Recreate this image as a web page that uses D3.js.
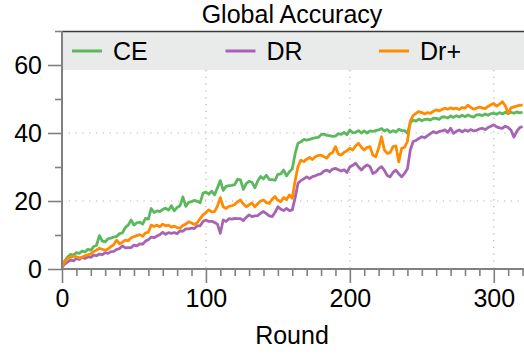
<!DOCTYPE html>
<meta charset="utf-8"/>
<style>
  body { margin: 0; background: #fff; }
  text { font-family: "Liberation Sans", Arial, Helvetica, sans-serif; }
</style>
<svg width="524" height="354"></svg>

<script src="https://cdn.jsdelivr.net/npm/d3@7"></script>
<script>

// rounds 0..320, one value every 2 rounds
var step = 2
var seriesNames = ['CE', 'DR', 'Dr+']
var seriesColours = ['#5cb85c', '#a864b4', '#ff8c00']

var ce = [
  0.8, 2.5, 3.6, 4.3, 4.1, 4.8, 4.6, 5.3, 5.0, 5.8,
  5.5, 6.6, 7.0, 9.8, 8.2, 8.0, 8.9, 9.1, 9.4, 9.6,
  10.4, 10.6, 12.2, 12.9, 14.4, 12.9, 13.6, 13.8, 13.2, 14.9,
  14.7, 17.8, 16.6, 17.1, 16.9, 17.5, 17.9, 17.3, 18.6, 17.1,
  18.1, 18.6, 21.2, 18.4, 19.6, 19.8, 20.2, 19.9, 19.5, 22.3,
  22.6, 22.0, 22.9, 21.8, 23.9, 26.0, 23.1, 24.3, 24.5, 24.6,
  24.8, 26.4, 26.2, 23.4, 25.1, 25.8, 25.5, 23.9, 25.9, 27.2,
  26.5, 27.6, 26.3, 26.3, 26.1, 27.8, 28.0, 29.1, 27.4, 28.6,
  29.5, 34.0, 37.0, 37.4, 38.1, 37.9, 38.1, 38.4, 38.6, 38.7,
  39.5, 39.7, 39.3, 39.2, 39.0, 39.1, 39.8, 39.6, 40.2, 39.5,
  40.9, 40.1, 40.2, 40.7, 40.0, 40.6, 40.0, 40.6, 40.5, 40.7,
  40.9, 41.3, 40.6, 41.0, 40.2, 40.7, 40.3, 41.1, 40.7, 40.7,
  39.9, 43.0, 43.8, 43.5, 44.1, 43.6, 44.0, 44.1, 43.8, 44.4,
  44.3, 44.0, 44.7, 44.7, 44.4, 45.0, 44.6, 45.1, 44.7, 45.2,
  44.8, 45.3, 44.9, 44.7, 45.3, 45.4, 45.1, 45.6, 45.2, 45.7,
  45.8, 45.5, 46.0, 45.6, 46.1, 45.7, 46.1, 45.8, 46.2, 45.9, 46.1
]

var dr = [
  0.5, 1.5, 2.1, 2.6, 2.4, 3.1, 2.8, 3.4, 3.1, 3.6,
  3.4, 4.1, 3.9, 4.4, 4.2, 4.8, 4.6, 5.1, 5.2, 5.8,
  6.0, 6.8, 6.2, 6.3, 6.3, 7.0, 6.8, 7.4, 7.3, 8.2,
  8.6, 9.4, 9.2, 9.7, 10.1, 10.8, 10.2, 10.7, 10.5, 10.7,
  10.4, 11.2, 11.1, 11.8, 11.8, 12.0, 11.9, 12.7, 12.7, 14.0,
  14.4, 14.0, 14.0, 13.7, 13.2, 10.5, 14.4, 14.0, 14.8, 14.7,
  14.9, 14.8, 14.8, 14.2, 15.2, 15.9, 15.4, 15.6, 15.7, 16.4,
  16.9, 16.3, 15.6, 15.4, 16.6, 18.3, 17.6, 17.2, 17.8, 17.2,
  17.4, 21.0, 25.2, 26.0, 26.5, 27.1, 26.6, 27.2, 27.4, 27.8,
  28.0, 28.8, 29.1, 28.6, 29.4, 29.6, 29.2, 28.8, 29.2, 28.4,
  30.0, 30.5, 31.1, 30.0, 29.1, 30.0, 30.6, 30.1, 28.1, 28.5,
  29.5, 30.1, 29.0, 27.5, 27.1, 28.4, 29.1, 28.0, 27.1, 28.1,
  29.5, 35.0, 37.5, 37.8, 38.4, 38.9, 38.6, 39.2, 39.8, 40.4,
  40.0, 40.4, 40.6, 40.9, 40.2, 41.4, 39.9, 40.5, 40.9, 40.3,
  40.9, 40.5, 41.0, 40.6, 40.8, 41.2, 41.4, 41.0, 41.6, 42.0,
  42.4, 41.8, 41.5, 41.4, 42.0, 41.6, 40.8, 38.8, 40.5, 41.6, 41.9
]

var drPlus = [
  0.6, 2.2, 3.1, 3.5, 3.8, 3.6, 3.3, 3.5, 3.9, 4.2,
  4.4, 5.1, 5.6, 6.1, 5.8, 5.5, 5.9, 6.6, 7.2, 8.5,
  7.4, 7.9, 8.5, 8.3, 9.2, 9.5, 9.8, 10.1, 9.6, 10.6,
  10.8, 12.9, 12.5, 12.9, 12.4, 13.2, 12.7, 12.9, 12.3, 12.6,
  12.2, 12.0, 12.8, 13.2, 13.9, 13.5, 13.1, 13.6, 14.8, 15.9,
  16.6, 17.4, 16.8, 16.9, 18.5, 21.0, 18.3, 17.8, 18.4, 18.6,
  19.0, 19.8, 20.3, 19.1, 18.3, 18.9, 19.4, 18.3, 19.2, 20.0,
  20.3, 19.5, 19.3, 20.5, 21.3, 20.2, 19.8, 21.0, 20.4, 21.8,
  20.8, 26.0, 30.2, 32.0, 31.6, 32.3, 32.8, 32.2, 33.0, 33.4,
  33.5, 33.0, 32.6, 33.8, 34.2, 36.0, 33.8, 33.5, 34.3, 34.8,
  35.5, 35.0, 36.2, 37.0, 35.8, 35.0, 35.8, 36.0, 33.5, 33.0,
  35.5, 38.9, 35.0, 34.0, 34.2, 36.0, 36.2, 31.5, 35.5, 35.8,
  37.5, 43.5, 45.2, 45.8, 46.3, 46.0, 45.6, 46.0, 45.8, 46.4,
  46.8, 46.5, 46.9, 47.3, 47.0, 47.4, 47.1, 47.3, 46.9, 47.5,
  47.3, 48.2, 47.5, 47.0, 47.3, 47.6, 47.4, 47.2, 47.8, 48.3,
  48.7, 47.9, 48.5, 49.2, 48.0, 45.8, 47.4, 47.7, 47.9, 48.2, 48.1
]

var xMajor = [0, 100, 200, 300]
var yMajor = [0, 20, 40, 60]
var yMinor = [10, 30, 50, 70]

var svg = d3.select("svg")
var plotLeft = 62, plotRight = 524, plotTop = 31, plotBottom = 269
var legendBottom = 70
var fontSize = "25px"

var x = d3.scaleLinear().domain([0, 321]).range([plotLeft, plotRight])
var y = d3.scaleLinear().domain([0, 70]).range([plotBottom, plotTop])

var xMinor = d3.range(10, 321, 10).filter(function(v) { return v % 100 != 0 })

svg.append("defs").append("clipPath").attr("id", "plot")
  .append("rect")
  .attr("x", plotLeft).attr("y", plotTop)
  .attr("width", plotRight - plotLeft).attr("height", plotBottom - plotTop)

// dotted grid
var grid = svg.append("g")
  .attr("stroke", "#b4b4b4")
  .attr("stroke-width", 1.2)
  .attr("stroke-dasharray", "1.2,5.6")

grid.selectAll("line.h")
  .data([20, 40])
  .enter().append("line")
  .attr("x1", plotLeft).attr("x2", plotRight)
  .attr("y1", function(d) { return y(d) }).attr("y2", function(d) { return y(d) })

grid.selectAll("line.v")
  .data([100, 200, 300])
  .enter().append("line")
  .attr("x1", function(d) { return x(d) }).attr("x2", function(d) { return x(d) })
  .attr("y1", legendBottom).attr("y2", plotBottom)

// series
var line = d3.line()
  .x(function(d, i) { return x(i * step) })
  .y(function(d) { return y(d) })

var allSeries = [ce, dr, drPlus]
svg.append("g").attr("clip-path", "url(#plot)")
  .selectAll("path")
  .data(allSeries)
  .enter().append("path")
  .attr("d", line)
  .attr("fill", "none")
  .attr("stroke", function(d, i) { return seriesColours[i] })
  .attr("stroke-width", 2.8)
  .attr("stroke-linejoin", "round")

// legend band
svg.append("rect")
  .attr("x", plotLeft).attr("y", plotTop)
  .attr("width", plotRight - plotLeft).attr("height", legendBottom - plotTop)
  .attr("fill", "#e9eaea")

svg.append("line")
  .attr("x1", plotLeft).attr("x2", plotRight)
  .attr("y1", plotTop + 0.5).attr("y2", plotTop + 0.5)
  .attr("stroke", "#3a3a3a").attr("stroke-width", 1.5)

var legend = svg.selectAll("g.legend")
  .data(seriesNames)
  .enter().append("g")
  .attr("transform", function(d, i) { return "translate(" + (72 + i * 153.5) + ",51)" })

legend.append("line")
  .attr("x1", 0).attr("x2", 30)
  .attr("stroke", function(d, i) { return seriesColours[i] })
  .attr("stroke-width", 3)

legend.append("text")
  .attr("x", 41).attr("y", 8.5)
  .style("font-size", fontSize)
  .attr("fill", "#000")
  .text(function(d) { return d })

// axes
function styleAxis(g) {
  g.select(".domain").remove()
  g.selectAll(".tick line").attr("stroke", "#808080").attr("stroke-width", 1.6)
  g.selectAll(".tick text")
    .attr("fill", "#000")
    .style("font-size", fontSize)
    .style("font-family", '"Liberation Sans", Arial, Helvetica, sans-serif')
}

svg.append("g")
  .attr("transform", "translate(" + plotLeft + ",0)")
  .call(d3.axisLeft(y).tickValues(yMinor).tickSize(7).tickFormat(""))
  .call(styleAxis)

svg.append("g")
  .attr("transform", "translate(" + plotLeft + ",0)")
  .call(d3.axisLeft(y).tickValues(yMajor).tickSize(14).tickPadding(6))
  .call(styleAxis)

svg.append("g")
  .attr("transform", "translate(0," + plotBottom + ")")
  .call(d3.axisBottom(x).tickValues(xMinor).tickSize(7).tickFormat(""))
  .call(styleAxis)

svg.append("g")
  .attr("transform", "translate(0," + plotBottom + ")")
  .call(d3.axisBottom(x).tickValues(xMajor).tickSize(14).tickPadding(6))
  .call(styleAxis)

// axis lines
svg.append("line")
  .attr("x1", plotLeft).attr("x2", plotLeft)
  .attr("y1", plotTop).attr("y2", plotBottom)
  .attr("stroke", "#808080").attr("stroke-width", 2)

svg.append("line")
  .attr("x1", plotLeft).attr("x2", plotRight)
  .attr("y1", plotBottom).attr("y2", plotBottom)
  .attr("stroke", "#808080").attr("stroke-width", 2)

// titles
svg.append("text")
  .attr("x", 292).attr("y", 23)
  .attr("text-anchor", "middle")
  .style("font-size", fontSize)
  .text("Global Accuracy")

svg.append("text")
  .attr("x", 292).attr("y", 344)
  .attr("text-anchor", "middle")
  .style("font-size", fontSize)
  .text("Round")

</script>
